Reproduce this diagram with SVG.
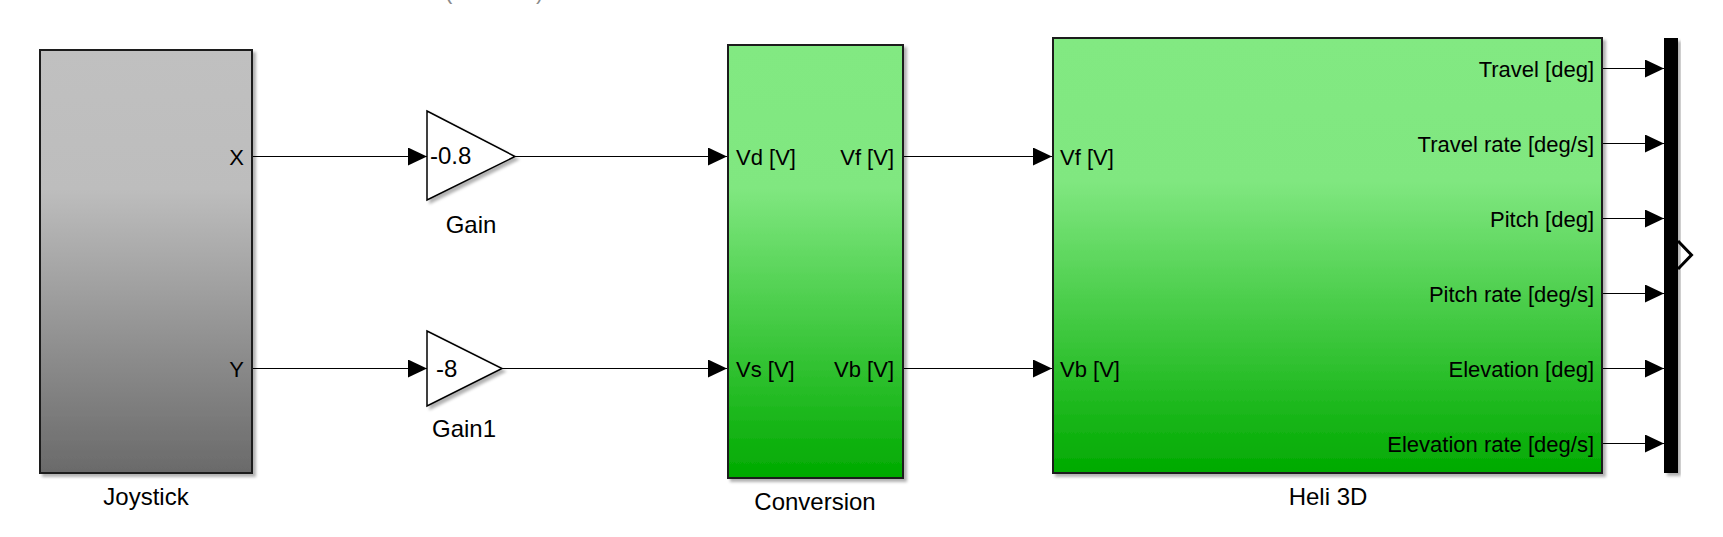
<svg xmlns="http://www.w3.org/2000/svg" width="1723" height="537" viewBox="0 0 1723 537">
<defs>
<linearGradient id="gGrey" x1="0" y1="0" x2="0" y2="1">
<stop offset="0" stop-color="#c0c0c0"/>
<stop offset="0.33" stop-color="#bdbdbd"/>
<stop offset="1" stop-color="#6a6a6a"/>
</linearGradient>
<linearGradient id="gGreen" x1="0" y1="0" x2="0" y2="1">
<stop offset="0" stop-color="#82e982"/>
<stop offset="0.33" stop-color="#80e780"/>
<stop offset="1" stop-color="#00aa00"/>
</linearGradient>
<filter id="sh" x="-10%" y="-10%" width="130%" height="130%">
<feDropShadow dx="3" dy="3" stdDeviation="1.5" flood-color="#000" flood-opacity="0.3"/>
</filter>
<marker id="arr" markerUnits="userSpaceOnUse" markerWidth="20" markerHeight="20" refX="19" refY="9" orient="auto">
<path d="M0,0 L19,9 L0,18 z" fill="#000"/>
</marker>
</defs>
<style>
text{font-family:"Liberation Sans",Arial,sans-serif;font-size:22px;fill:#000}
.name{font-size:24px}
.gv{font-size:24px}
.blk{stroke:#1a1a1a;stroke-width:2}
.tri{fill:#fff;stroke:#000;stroke-width:1.5}
.ln{stroke:#000;stroke-width:1;fill:none;marker-end:url(#arr)}
.mid{text-anchor:middle}
.end{text-anchor:end}
</style>
<rect width="1723" height="537" fill="#fff"/>
<text x="445" y="-1.5" style="fill:#8a8a8a">(</text>
<text x="536" y="-1.5" style="fill:#8a8a8a">)</text>

<g id="connectors">
<path class="ln" d="M253,156.5 H427"/>
<path class="ln" d="M253,368.5 H427"/>
<path class="ln" d="M515,156.5 H727"/>
<path class="ln" d="M502,368.5 H727"/>
<path class="ln" d="M903,156.5 H1052"/>
<path class="ln" d="M903,368.5 H1052"/>
<path class="ln" d="M1603,68.5 H1664"/>
<path class="ln" d="M1603,143.5 H1664"/>
<path class="ln" d="M1603,218.5 H1664"/>
<path class="ln" d="M1603,293.5 H1664"/>
<path class="ln" d="M1603,368.5 H1664"/>
<path class="ln" d="M1603,443.5 H1664"/>
</g>

<g id="joystick">
<rect class="blk" x="40" y="50" width="212" height="423" fill="url(#gGrey)" filter="url(#sh)"/>
<text class="end" x="244" y="164.5">X</text>
<text class="end" x="244" y="376.5">Y</text>
<text class="mid name" x="146" y="505">Joystick</text>
</g>

<g id="gain">
<path class="tri" d="M427,111 L515,156.5 L427,200 z" filter="url(#sh)"/>
<text class="gv" x="430" y="164">-0.8</text>
<text class="mid name" x="471" y="233">Gain</text>
</g>

<g id="gain1">
<path class="tri" d="M427,331 L502,368.5 L427,406 z" filter="url(#sh)"/>
<text class="gv" x="436" y="376.5">-8</text>
<text class="mid name" x="464" y="437">Gain1</text>
</g>

<g id="conversion">
<rect class="blk" x="728" y="45" width="175" height="433" fill="url(#gGreen)" filter="url(#sh)"/>
<text x="736" y="164.5">Vd [V]</text>
<text x="736" y="376.5">Vs [V]</text>
<text class="end" x="894" y="164.5">Vf [V]</text>
<text class="end" x="894" y="376.5">Vb [V]</text>
<text class="mid name" x="815" y="510">Conversion</text>
</g>

<g id="heli3d">
<rect class="blk" x="1053" y="38" width="549" height="435" fill="url(#gGreen)" filter="url(#sh)"/>
<text x="1060" y="164.5">Vf [V]</text>
<text x="1060" y="376.5">Vb [V]</text>
<text class="end" x="1594" y="76.5">Travel [deg]</text>
<text class="end" x="1594" y="151.5">Travel rate [deg/s]</text>
<text class="end" x="1594" y="226.5">Pitch [deg]</text>
<text class="end" x="1594" y="301.5">Pitch rate [deg/s]</text>
<text class="end" x="1594" y="376.5">Elevation [deg]</text>
<text class="end" x="1594" y="451.5">Elevation rate [deg/s]</text>
<text class="mid name" x="1328" y="505">Heli 3D</text>
</g>

<g id="mux">
<rect x="1664" y="38" width="14" height="435" fill="#000" filter="url(#sh)"/>
<polyline points="1678,241 1691.5,255 1678,269" fill="none" stroke="#000" stroke-width="3"/>
</g>
</svg>
